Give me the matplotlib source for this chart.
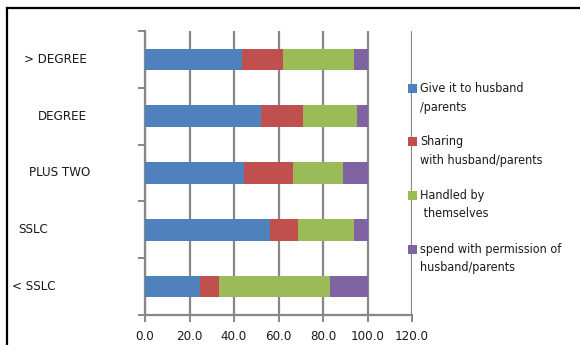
import matplotlib
matplotlib.use('Agg')
import matplotlib.pyplot as plt
from matplotlib.patches import Rectangle
from matplotlib.lines import Line2D
import numpy as np

plt.rcParams['font.family'] = ['DejaVu Sans']
plt.rcParams['font.stretch'] = 'condensed'

# education levels, top to bottom
categories = ['> DEGREE', 'DEGREE', 'PLUS TWO', 'SSLC', '< SSLC']
series_names = ['Give it to husband\n/parents',
                'Sharing\nwith husband/parents',
                'Handled by\n themselves',
                'spend with permission of\nhusband/parents']
give_to_family = [43.4, 52.2, 44.3, 56.1, 24.8]
sharing = [18.7, 19.0, 22.3, 12.5, 8.5]
self_handled = [31.7, 24.0, 22.4, 25.2, 49.7]
with_permission = [6.2, 4.8, 11.0, 6.2, 17.0]
x_ticks = [0, 20, 40, 60, 80, 100, 120]

colors = ['#4F81BD', '#C0504D', '#9BBB59', '#8064A2']
grid_color = '#878787'
text_color = '#1a1a1a'
fs = 9

W, H = 580, 345
fig = plt.figure(figsize=(W / 100, H / 100), dpi=100)
ax = fig.add_axes([145 / W, 1 - 315 / H, (412 - 145) / W, (315 - 31) / H])

values = np.array([give_to_family, sharing, self_handled, with_permission])
ypos = np.arange(len(categories))[::-1]
left = np.zeros(len(categories))
for vals, col, name in zip(values, colors, series_names):
    ax.barh(ypos, vals, left=left, height=0.38, color=col, label=name, zorder=3)
    left += vals

ax.set_xlim(0, 120)
ax.set_ylim(-0.5, len(categories) - 0.5)
ax.set_xticks(x_ticks)
ax.set_xticklabels([f'{t:.1f}' for t in x_ticks], fontsize=fs + 0.5, color=text_color)
ax.xaxis.grid(True, color=grid_color, linewidth=1.6, zorder=0)
ax.tick_params(axis='x', length=5, width=1.4, color=grid_color, pad=6)

# category boundaries get the tick marks, labels are placed separately
ax.set_yticks(np.arange(-0.5, len(categories), 1.0))
ax.set_yticklabels([])
ax.tick_params(axis='y', length=5, width=1.4, color=grid_color)

for side in ['top', 'right']:
    ax.spines[side].set_visible(False)
for side in ['left', 'bottom']:
    ax.spines[side].set_color(grid_color)
    ax.spines[side].set_linewidth(1.6)

label_right = [87, 87, 90, 48, 55]
for cat, y, xr in zip(categories, ypos, label_right):
    yf = ax.transData.transform((0, y))[1] / H
    fig.text(xr / W, yf, cat, ha='right', va='center', fontsize=fs + 0.5, color=text_color)

# legend: swatch next to first line of each entry
entry_y = [88.5, 141.5, 195, 249]
for name, col, yp in zip(series_names, colors, entry_y):
    fig.add_artist(Rectangle((408 / W, 1 - (yp + 4.5) / H), 8.5 / W, 8.5 / H,
                             transform=fig.transFigure, facecolor=col, edgecolor='none'))
    fig.text(420 / W, 1 - (yp + 9.5) / H, name, ha='left', va='center',
             fontsize=fs, color=text_color, linespacing=1.55)

# outer frame: left and top edges only, the rest runs off the picture
fig.add_artist(Line2D([7 / W, 7 / W], [0, 1 - 8 / H], transform=fig.transFigure,
                      color='black', linewidth=1.6))
fig.add_artist(Line2D([7 / W, 1.05], [1 - 8 / H, 1 - 8 / H], transform=fig.transFigure,
                      color='black', linewidth=1.6))

fig.savefig('out.png', dpi=100)
